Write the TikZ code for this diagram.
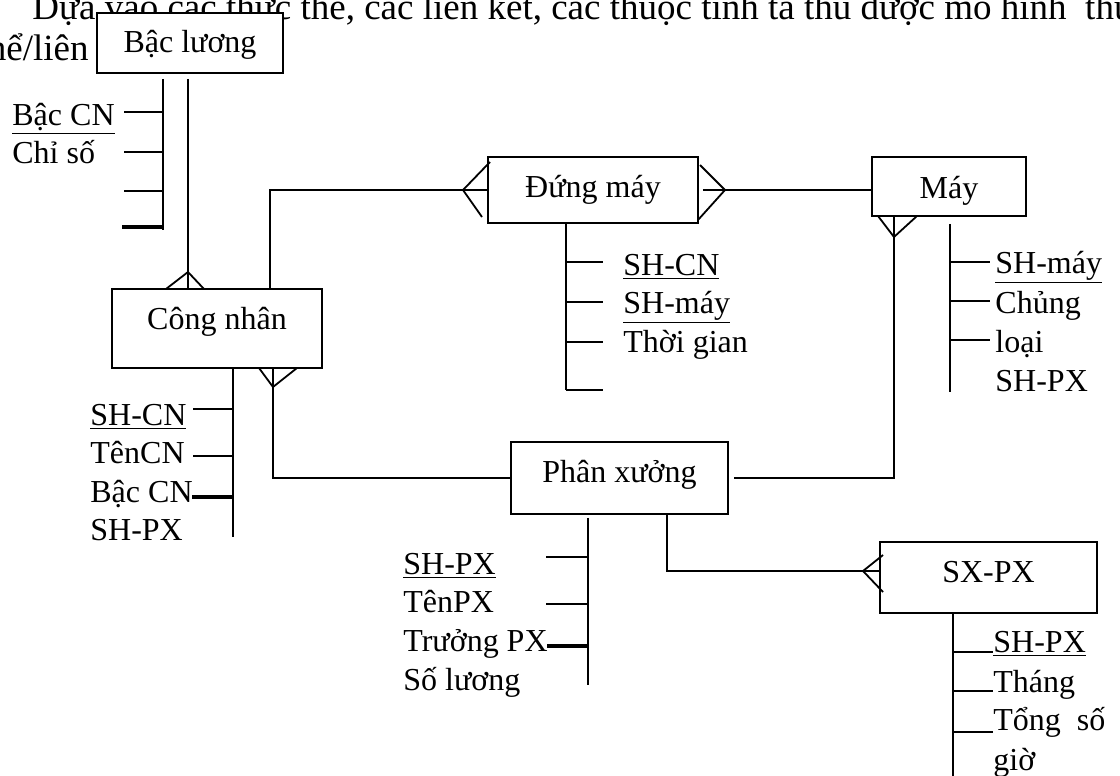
\documentclass[tikz,border=0pt]{standalone}
\usepackage{fontspec}
\setmainfont{Liberation Serif}
\usetikzlibrary{calc}

\tikzset{
  entity/.style={draw, fill=white, line width=0.9pt, inner sep=0pt, text depth=3pt},
  attr/.style={anchor=base west, inner sep=0pt},
  link/.style={line width=0.9pt},
  keytick/.style={line width=1.6pt},
  bodytext/.style={inner sep=0pt, font=\fontsize{18.5}{22}\selectfont},
}

\begin{document}
\begin{tikzpicture}[x=0.5pt, y=-0.5pt, font=\fontsize{16}{19}\selectfont]
\useasboundingbox (0,0) rectangle (1120,776);

% running text behind the diagram
\node[bodytext, anchor=base west] (para1) at (32,19) {Dựa vào các thực thể, các liên kết, các thuộc tính ta thu được mô hình\ \ thực};
\node[bodytext, anchor=base east] (para2) at (89,61) {thể/liên};

% entities
\node[entity, text height=13pt, minimum width=93pt, minimum height=30pt] (bacluong) at (190,43) {Bậc lương};
\node[entity, text height=10pt, minimum width=105pt, minimum height=33pt] (dungmay) at (593,190) {Đứng máy};
\node[entity, text height=14.5pt, minimum width=77pt, minimum height=29.5pt] (may) at (949,186.5) {Máy};
\node[entity, text height=4pt, minimum width=105pt, minimum height=39.5pt] (congnhan) at (217,328.5) {Công nhân};
\node[entity, text height=7pt, minimum width=108.5pt, minimum height=36pt] (phanxuong) at (619.5,478) {Phân xưởng};
\node[entity, text height=7.5pt, minimum width=108.5pt, minimum height=35.5pt] (sxpx) at (988.5,577.5) {SX-PX};

% relationships
\coordinate (cfbl) at (188,272);
\draw[link, shorten <=2.5pt] (bacluong.south -| cfbl) -- (congnhan.north -| cfbl);
\draw[link] ($(cfbl)+(-22,17)$) -- (cfbl) -- ($(cfbl)+(16,17)$);

\coordinate (cfdm1) at (463,190);
\draw[link] (congnhan.north -| 270,0) |- (dungmay.west);
\draw[link] ($(cfdm1)+(27,-28)$) -- (cfdm1) -- ($(cfdm1)+(19,27)$);

\coordinate (cfdm2) at (725,190);
\draw[link, shorten <=2pt] (dungmay.east) -- (dungmay.east -| may.west);
\draw[link] ($(cfdm2)+(-25,-25)$) -- (cfdm2) -- ($(cfdm2)+(-27,30)$);

\coordinate (cfmay) at (894,237);
\draw[link, shorten >=2.5pt] (may.south -| cfmay) |- (phanxuong.east);
\draw[link] ($(cfmay)+(-16,-21)$) -- (cfmay) -- ($(cfmay)+(23,-21)$);

\coordinate (cfcn) at (273,387);
\draw[link] (congnhan.south -| cfcn) |- (phanxuong.west);
\draw[link] ($(cfcn)+(-14,-19)$) -- (cfcn) -- ($(cfcn)+(24,-19)$);

\coordinate (cfsx) at (863,571);
\draw[link] (phanxuong.south -| 667,0) |- ([yshift=3.25pt]sxpx.west);
\draw[link] ($(cfsx)+(20,-16)$) -- (cfsx) -- ($(cfsx)+(20,21)$);

% attributes of Bậc lương
\draw[link, shorten <=2.5pt] (bacluong.south -| 163,0) -- (163,230);
\foreach \yy in {112,152,191} \draw[link] (124,\yy) -- (163,\yy);
\draw[keytick] (122,227) -- (163,227);
\node[attr] (bl1) at (12,125) {\underline{Bậc CN}};
\node[attr] (bl2) at (12,163) {Chỉ số};

% attributes of Đứng máy
\draw[link] (dungmay.south -| 566,0) -- (566,390);
\foreach \yy in {262,302,342,390} \draw[link] (566,\yy) -- (603,\yy);
\node[attr] (dm1) at (623,275) {\underline{SH-CN}};
\node[attr] (dm2) at (623,313) {\underline{SH-máy}};
\node[attr] (dm3) at (623,352) {Thời gian};

% attributes of Máy
\draw[link, shorten <=3.5pt] (may.south -| 950,0) -- (950,392);
\foreach \yy in {262,301,340} \draw[link] (950,\yy) -- (990,\yy);
\node[attr] (my1) at (995,273) {\underline{SH-máy}};
\node[attr] (my2) at (995,313) {Chủng};
\node[attr] (my3) at (995,352) {loại};
\node[attr] (my4) at (995,391) {SH-PX};

% attributes of Công nhân
\draw[link] (congnhan.south -| 233,0) -- (233,537);
\foreach \yy in {409,456} \draw[link] (193,\yy) -- (233,\yy);
\draw[keytick] (192,497) -- (233,497);
\node[attr] (cn1) at (90,425) {\underline{SH-CN}};
\node[attr] (cn2) at (90,463) {TênCN};
\node[attr] (cn3) at (90,502) {Bậc CN};
\node[attr] (cn4) at (90,540) {SH-PX};

% attributes of Phân xưởng
\draw[link, shorten <=1.5pt] (phanxuong.south -| 588,0) -- (588,685);
\foreach \yy in {557,604} \draw[link] (546,\yy) -- (588,\yy);
\draw[keytick] (547,646) -- (588,646);
\node[attr] (px1) at (403,574) {\underline{SH-PX}};
\node[attr] (px2) at (403,612) {TênPX};
\node[attr] (px3) at (403,651) {Trưởng PX};
\node[attr] (px4) at (403,690) {Số lương};

% attributes of SX-PX
\draw[link] (sxpx.south -| 953,0) -- (953,780);
\foreach \yy in {652,691,732} \draw[link] (953,\yy) -- (993,\yy);
\node[attr] (sx1) at (993,652) {\underline{SH-PX}};
\node[attr] (sx2) at (993,692) {Tháng};
\node[attr] (sx3) at (993,730) {Tổng\ \ số};
\node[attr] (sx4) at (993,770) {giờ};
\end{tikzpicture}
\end{document}
